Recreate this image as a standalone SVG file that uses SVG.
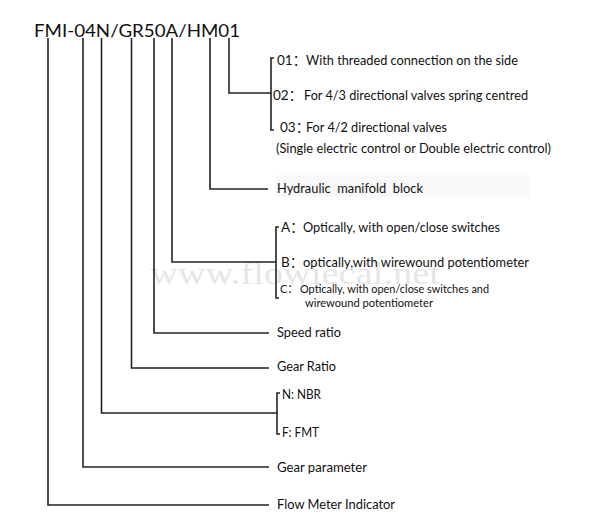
<svg xmlns="http://www.w3.org/2000/svg" width="600" height="528" viewBox="0 0 600 528">
<style>
  .t { font-family: Lato, "Noto Sans CJK SC", sans-serif; font-size: 13.5px; fill: #111; }
  .s { font-family: Lato, "Noto Sans CJK SC", sans-serif; font-size: 11px; fill: #111; }
  .title { font-family: Lato, "Noto Sans CJK SC", sans-serif; font-size: 17.5px; fill: #111; }
  .c { fill: none; stroke: #222; stroke-width: 1.6; }
  .wm { font-family: "Liberation Serif", serif; font-size: 32px; fill: #e6e6e6; }
</style>
<rect width="600" height="528" fill="#ffffff"/>
<rect x="275" y="175" width="255" height="22" fill="#f9f9f9"/>
<text class="wm" x="150" y="284" textLength="290" lengthAdjust="spacingAndGlyphs">www.flowiecal.net</text>

<g id="code"><text class="title" x="34" y="37" textLength="206" lengthAdjust="spacingAndGlyphs">FMI-04N/GR50A/HM01</text></g>

<g id="connectors">
  <path class="c" d="M229,38 V93 H271"/>
  <path class="c" d="M274,58 H271 V130 H274"/>
  <path class="c" d="M210,38 V189 H268"/>
  <path class="c" d="M172,38 V262 H276"/>
  <path class="c" d="M279,227 H276 V298 H279"/>
  <path class="c" d="M154,38 V333 H269"/>
  <path class="c" d="M131.5,38 V368 H269"/>
  <path class="c" d="M101.5,38 V413 H277"/>
  <path class="c" d="M280,393 H277 V434 H280"/>
  <path class="c" d="M83,38 V467 H269"/>
  <path class="c" d="M48,38 V505 H269"/>
</g>

<g id="opt01"><text class="t" x="277" y="65">01：</text><text class="t" x="306" y="65" textLength="212" lengthAdjust="spacingAndGlyphs">With threaded connection on the side</text></g>
<g id="opt02"><text class="t" x="273" y="100">02：</text><text class="t" x="304" y="100" textLength="224" lengthAdjust="spacingAndGlyphs">For 4/3 directional valves spring centred</text></g>
<g id="opt03"><text class="t" x="280" y="132">03：</text><text class="t" x="306" y="132" textLength="141" lengthAdjust="spacingAndGlyphs">For 4/2 directional valves</text>
<text class="t" x="276" y="153" textLength="275" lengthAdjust="spacingAndGlyphs">(Single electric control or Double electric control)</text></g>
<g id="manifold"><text class="t" x="277" y="193" textLength="146" lengthAdjust="spacingAndGlyphs" xml:space="preserve">Hydraulic  manifold  block</text></g>
<g id="optA"><text class="t" x="281" y="232">A：</text><text class="t" x="303" y="232" textLength="197" lengthAdjust="spacingAndGlyphs">Optically, with open/close switches</text></g>
<g id="optB"><text class="t" x="281" y="267">B：</text><text class="t" x="303" y="267" textLength="226" lengthAdjust="spacingAndGlyphs">optically,with wirewound potentiometer</text></g>
<g id="optC"><text class="s" x="280" y="293">C：</text><text class="s" x="300" y="293" textLength="189" lengthAdjust="spacingAndGlyphs">Optically, with open/close switches and</text>
<text class="s" x="305" y="307" textLength="128" lengthAdjust="spacingAndGlyphs">wirewound potentiometer</text></g>
<g id="speed"><text class="t" x="277" y="337" textLength="64" lengthAdjust="spacingAndGlyphs">Speed ratio</text></g>
<g id="gearratio"><text class="t" x="277" y="371" textLength="59" lengthAdjust="spacingAndGlyphs">Gear Ratio</text></g>
<g id="optN"><text class="t" x="282" y="399" textLength="39" lengthAdjust="spacingAndGlyphs">N: NBR</text></g>
<g id="optF"><text class="t" x="282" y="437" textLength="37" lengthAdjust="spacingAndGlyphs">F: FMT</text></g>
<g id="gearparam"><text class="t" x="277" y="472" textLength="90" lengthAdjust="spacingAndGlyphs">Gear parameter</text></g>
<g id="flowmeter"><text class="t" x="277" y="509" textLength="118" lengthAdjust="spacingAndGlyphs">Flow Meter Indicator</text></g>
</svg>
